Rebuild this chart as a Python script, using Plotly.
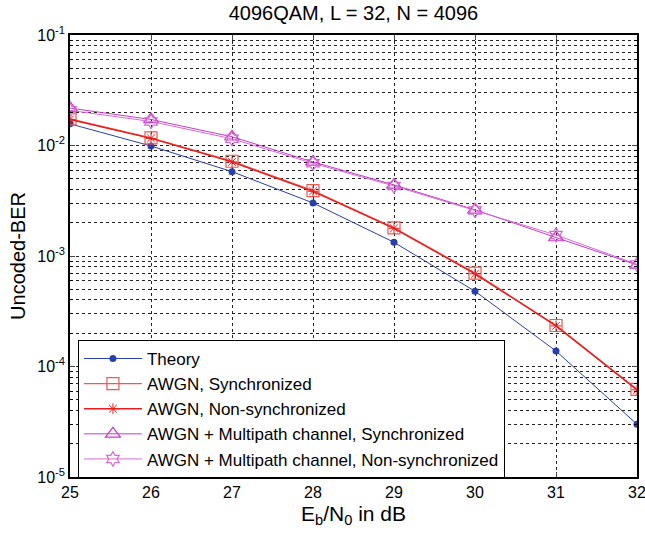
import plotly.graph_objects as go

ebn0 = [25, 26, 27, 28, 29, 30, 31, 32]
theory = [0.0157, 0.0099, 0.0058, 0.00302, 0.00133, 0.00048, 0.000138, 0.0000300]
awgn_sync = [0.0174, 0.0117, 0.0072, 0.0039, 0.0018, 0.00070, 0.000235, 0.0000620]
awgn_nonsync = [0.0172, 0.0116, 0.0071, 0.00385, 0.00178, 0.00069, 0.000233, 0.0000615]
mp_sync = [0.0218, 0.0172, 0.0120, 0.0071, 0.00440, 0.00262, 0.00147, 0.00083]
mp_nonsync = [0.0208, 0.0165, 0.0115, 0.0069, 0.00430, 0.00258, 0.00155, 0.00084]
y_major = [1e-5, 1e-4, 1e-3, 1e-2, 1e-1]
y_major_text = ["10<sup>-5</sup>", "10<sup>-4</sup>", "10<sup>-3</sup>", "10<sup>-2</sup>", "10<sup>-1</sup>"]

series = [
    ("Theory", theory, "#2a3fa8", 1, dict(symbol="circle", size=7, color="#2a3fa8")),
    ("AWGN, Synchronized", awgn_sync, "#ec5a52", 1.4,
     dict(symbol="square-open", size=12, color="#ec5a52", line=dict(width=1.2, color="#ec5a52"))),
    ("AWGN, Non-synchronized", awgn_nonsync, "#e81e1e", 1.4,
     dict(symbol="asterisk-open", size=9, color="#e81e1e", line=dict(width=1, color="#e81e1e"))),
    ("AWGN + Multipath channel, Synchronized", mp_sync, "#c63cc6", 1,
     dict(symbol="triangle-up-open", size=13, color="#c63cc6", line=dict(width=1.2, color="#c63cc6"))),
    ("AWGN + Multipath channel, Non-synchronized", mp_nonsync, "#d56ad5", 1,
     dict(symbol="hexagram-open", size=11, color="#d56ad5", line=dict(width=1.2, color="#d56ad5"))),
]

fig = go.Figure()
for name, y, color, lw, marker in series:
    fig.add_trace(go.Scatter(x=ebn0, y=y, name=name, mode="lines+markers",
                             line=dict(color=color, width=lw), marker=marker))

y_minor = [m * d for d in y_major[:-1] for m in range(2, 10)]

grid = dict(showgrid=True, gridcolor="#222", gridwidth=1, griddash="3px,3px")
fig.update_layout(
    width=645, height=537,
    margin=dict(l=70, r=8, t=35, b=60),
    paper_bgcolor="white", plot_bgcolor="white",
    font=dict(family="Liberation Sans, Arial, sans-serif", color="black", size=16),
    title=dict(text="4096QAM, L = 32, N = 4096", x=0.548, xanchor="center",
               yref="container", y=1 - 13 / 537, yanchor="middle", font=dict(size=20)),
    xaxis=dict(range=[25, 32], dtick=1, tick0=25, ticks="inside", ticklen=5,
               mirror="ticks", showline=True, linecolor="black", linewidth=1.5,
               automargin=False, ticklabeloverflow="allow",
               title=dict(text="E<sub>b</sub>/N<sub>0</sub> in dB", font=dict(size=21), standoff=6),
               zeroline=False, **grid),
    yaxis=dict(type="log", range=[-5, -1], tickvals=y_major, ticktext=y_major_text,
               ticks="inside", ticklen=5, mirror="ticks", showline=True,
               linecolor="black", linewidth=1.5, automargin=False, ticklabeloverflow="allow",
               minor=dict(tickmode="array", tickvals=y_minor, ticks="inside", ticklen=3,
                          tickcolor="black", showgrid=True, gridcolor="#222", gridwidth=1,
                          griddash="3px,3px"),
               title=dict(text="Uncoded-BER", font=dict(size=20), standoff=6),
               zeroline=False, **grid),
    legend=dict(x=0.014, y=0.31, xanchor="left", yanchor="top",
                bgcolor="white", bordercolor="black", borderwidth=1,
                font=dict(size=17), itemwidth=58, tracegroupgap=0),
    showlegend=True,
)
fig.write_html("out.html", config={"displayModeBar": False},
               post_script="document.body.style.margin='0';document.body.style.overflow='hidden';")
